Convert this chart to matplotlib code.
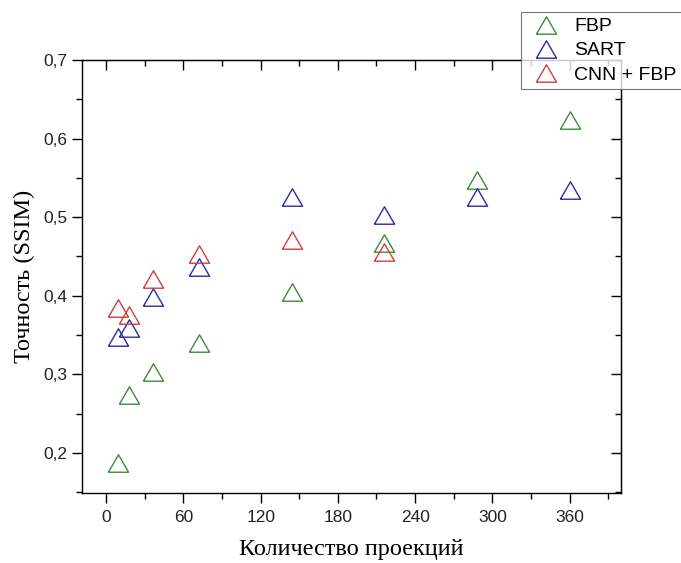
import matplotlib
matplotlib.use('Agg')
import matplotlib.pyplot as plt
from matplotlib.ticker import MultipleLocator, FuncFormatter

# Number of projections
projections = [9, 18, 36, 72, 144, 216, 288, 360]

ssim_fbp = [0.187, 0.274, 0.303, 0.340, 0.405, 0.467, 0.547, 0.624]
ssim_sart = [0.347, 0.359, 0.398, 0.437, 0.526, 0.503, 0.526, 0.535]
ssim_cnn = [0.384, 0.376, 0.421, 0.453, 0.471, 0.456]
proj_cnn = projections[:6]

series = [
    ('FBP', projections, ssim_fbp, '#3d8c3d'),
    ('SART', projections, ssim_sart, '#2b2ba3'),
    ('CNN + FBP', proj_cnn, ssim_cnn, '#d0403f'),
]

tri = [(-1, -0.866), (1, -0.866), (0, 0.866), (-1, -0.866)]

fig = plt.figure(figsize=(6.81, 5.63), dpi=100)
ax = fig.add_axes([0.12, 0.1243, 0.792, 0.7691])

for name, xs, ys, col in series:
    ax.plot(xs, ys, linestyle='none', marker=tri, markersize=14.5,
            markerfacecolor='none', markeredgecolor=col, markeredgewidth=1.0,
            label=name)

ax.set_xlim(-19, 400)
ax.set_ylim(0.149, 0.7)
ax.xaxis.set_major_locator(MultipleLocator(60))
ax.xaxis.set_minor_locator(MultipleLocator(30))
ax.yaxis.set_major_locator(MultipleLocator(0.1))
ax.yaxis.set_minor_locator(MultipleLocator(0.05))
ax.yaxis.set_major_formatter(FuncFormatter(lambda v, p: ('%.1f' % v).replace('.', ',')))

for sp in ax.spines.values():
    sp.set_linewidth(1.0)

ax.tick_params(which='major', direction='out', length=7, width=1.0,
               labelsize=12.5, top=False, right=False)
ax.tick_params(axis='x', which='major', pad=5)
ax.tick_params(which='minor', direction='out', length=4, width=1.0,
               top=False, right=False)
for lab in ax.get_xticklabels() + ax.get_yticklabels():
    lab.set_fontfamily('Liberation Sans')
    lab.set_color('#222222')

# inward ticks on the top and right frame
top = ax.secondary_xaxis('top')
top.xaxis.set_major_locator(MultipleLocator(60))
top.xaxis.set_minor_locator(MultipleLocator(30))
top.tick_params(which='major', direction='in', length=7, width=1.0, labeltop=False)
top.tick_params(which='minor', direction='in', length=4, width=1.0)
right = ax.secondary_yaxis('right')
right.yaxis.set_major_locator(MultipleLocator(0.1))
right.yaxis.set_minor_locator(MultipleLocator(0.05))
right.tick_params(which='major', direction='in', length=7, width=1.0, labelright=False)
right.tick_params(which='minor', direction='in', length=4, width=1.0)

ax.set_xlabel('Количество проекций', fontsize=17.5, family='Liberation Serif', labelpad=10)
ax.set_ylabel('Точность (SSIM)', fontsize=17.5, family='Liberation Serif', labelpad=6)

leg = ax.legend(loc='upper left', bbox_to_anchor=(521 / 681, 1 - 12 / 563),
                bbox_transform=fig.transFigure, borderaxespad=0,
                prop={'family': 'Liberation Sans', 'size': 14},
                frameon=True, fancybox=False, handlelength=2.0,
                handletextpad=0.45, labelspacing=0.33, borderpad=0.3)
leg.get_frame().set_edgecolor('#555555')
leg.get_frame().set_linewidth(0.8)
leg.set_zorder(10)

fig.savefig('out.png', dpi=100)
